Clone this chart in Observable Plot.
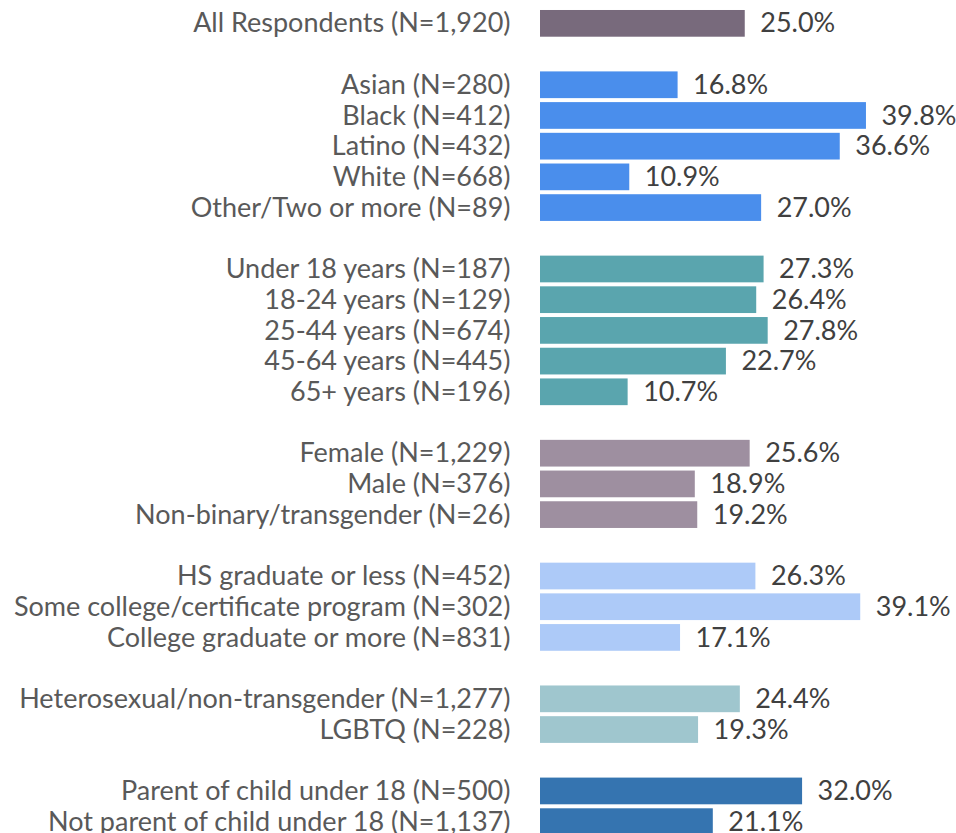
<!DOCTYPE html>
<html>
<head>
<meta charset="utf-8">
<script src="https://cdn.jsdelivr.net/npm/d3@7"></script>
<script src="https://cdn.jsdelivr.net/npm/@observablehq/plot@0.6"></script>
<style>
  html, body { margin: 0; padding: 0; background: #fff; }
  #chart { width: 956px; height: 833px; overflow: hidden; }
</style>
</head>
<body>
<div id="chart"></div>
<script>
// Row labels in display order; "" entries are blank spacer rows between groups
const categories = [
  "All Respondents (N=1,920)", "",
  "Asian (N=280)", "Black (N=412)", "Latino (N=432)", "White (N=668)", "Other/Two or more (N=89)", "",
  "Under 18 years (N=187)", "18-24 years (N=129)", "25-44 years (N=674)", "45-64 years (N=445)", "65+ years (N=196)", "",
  "Female (N=1,229)", "Male (N=376)", "Non-binary/transgender (N=26)", "",
  "HS graduate or less (N=452)", "Some college/certificate program (N=302)", "College graduate or more (N=831)", "",
  "Heterosexual/non-transgender (N=1,277)", "LGBTQ (N=228)", "",
  "Parent of child under 18 (N=500)", "Not parent of child under 18 (N=1,137)"
];
const values = [
  25.0, null,
  16.8, 39.8, 36.6, 10.9, 27.0, null,
  27.3, 26.4, 27.8, 22.7, 10.7, null,
  25.6, 18.9, 19.2, null,
  26.3, 39.1, 17.1, null,
  24.4, 19.3, null,
  32.0, 21.1
];
const groups = [
  "All", null,
  "Race", "Race", "Race", "Race", "Race", null,
  "Age", "Age", "Age", "Age", "Age", null,
  "Gender", "Gender", "Gender", null,
  "Education", "Education", "Education", null,
  "Orientation", "Orientation", null,
  "Parent", "Parent"
];
const groupNames = ["All", "Race", "Age", "Gender", "Education", "Orientation", "Parent"];
const groupColors = ["#786a7c", "#4a8eec", "#5aa5ae", "#9e8fa0", "#adcaf8", "#9fc6ce", "#3574b0"];

// unique keys for the band scale (spacers get distinct keys)
const keys = categories.map((c, i) => c === "" ? `__gap${i}` : c);
const rows = keys.map((k, i) => ({key: k, label: categories[i], value: values[i], group: groups[i]}))
  .filter(d => d.value !== null);

const font = "Lato, 'Open Sans', sans-serif";
const fs = 27;

const chart = Plot.plot({
  width: 956,
  height: 833,
  marginLeft: 540,
  marginRight: 6,
  marginTop: 0,
  marginBottom: 0,
  style: {fontFamily: font, background: "#fff"},
  x: {domain: [0, 50], range: [540, 949.5], axis: null},
  y: {domain: keys, range: [8, 837], paddingInner: 0.13, paddingOuter: 0.065, align: 0.5, round: false, axis: null},
  color: {domain: groupNames, range: groupColors},
  marks: [
    Plot.barX(rows, {x: "value", y: "key", fill: "group"}),
    Plot.ruleX([0], {stroke: "#d9d9d9", strokeWidth: 2, y1: 0, y2: 833}),
    Plot.axisY({
      label: null,
      tickSize: 0,
      tickPadding: 30,
      fontSize: fs,
      fill: "#595959",
      tickFormat: d => d.startsWith("__gap") ? "" : d
    }),
    Plot.text(rows, {
      x: "value", y: "key",
      text: d => d.value.toFixed(1) + "%",
      dx: 15, textAnchor: "start",
      fontSize: fs, fill: "#404040"
    })
  ]
});
document.getElementById("chart").appendChild(chart);
</script>
</body>
</html>
